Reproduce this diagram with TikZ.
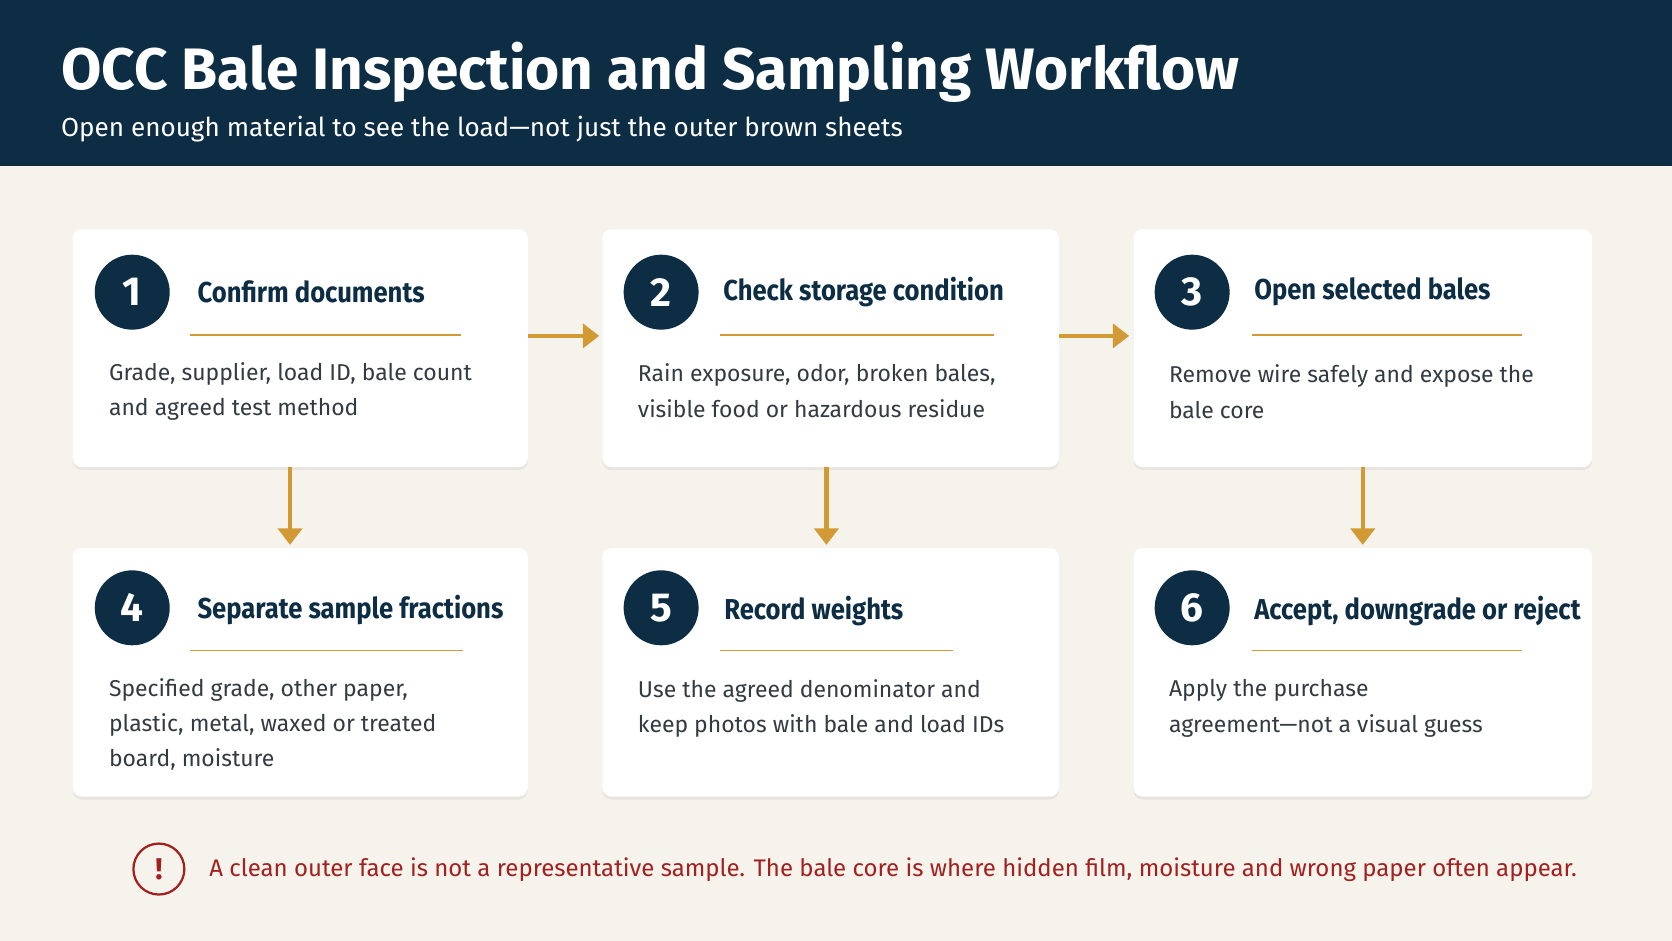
\documentclass[tikz,border=0pt]{standalone}
\usepackage{fontspec}
\setmainfont{Fira Sans}
\newfontfamily\condfont[FakeStretch=0.89]{Fira Sans}
\usetikzlibrary{positioning,arrows.meta,shadows}
\definecolor{navy}{HTML}{0D2D45}
\definecolor{cream}{HTML}{F6F3EC}
\definecolor{gold}{HTML}{D29A35}
\definecolor{bodygray}{HTML}{333B42}
\definecolor{warnred}{HTML}{A3201F}
\tikzset{
  card/.style={draw=none, fill=white, rounded corners=6pt,
    drop shadow={shadow xshift=0pt, shadow yshift=-2pt, opacity=0.12}},
  num/.style={circle, fill=navy, text=white, minimum size=50pt, inner sep=0pt,
    font=\fontsize{27}{27}\selectfont\bfseries},
  stitle/.style={anchor=west, text=navy, font=\condfont\fontsize{19.2}{22}\selectfont\bfseries, inner sep=0pt},
  sbody/.style={anchor=north west, text=bodygray, align=left, inner sep=0pt,
    font=\fontsize{15.3}{23.5}\selectfont},
  rule/.style={gold, line width=1.2pt},
  flow/.style={gold, line width=3pt, -{Triangle[length=11pt,width=16pt]}},
}
\begin{document}
\begin{tikzpicture}[x=0.025cm, y=-0.025cm]
  \useasboundingbox (0,0) rectangle (1568,882);
  \fill[cream] (0,0) rectangle (1568,882);
  \fill[navy] (0,0) rectangle (1568,156);
  \node[anchor=west, text=white, inner sep=0pt, font=\fontsize{39}{42}\selectfont\bfseries]
    (title) at (57,68) {OCC Bale Inspection and Sampling Workflow};
  \node[anchor=west, text=white, inner sep=0pt, font=\fontsize{17.4}{20}\selectfont]
    (subtitle) at (57,121) {Open enough material to see the load—not just the outer brown sheets};

  % cards
  \path[card] (68,215) rectangle (495,438);
  \path[card] (565,215) rectangle (993,438);
  \path[card] (1063,215) rectangle (1493,438);
  \path[card] (68,514) rectangle (495,747);
  \path[card] (565,514) rectangle (993,747);
  \path[card] (1063,514) rectangle (1493,747);
  \coordinate (c1r) at (495,315); \coordinate (c2l) at (562,315);
  \coordinate (c2r) at (993,315); \coordinate (c3l) at (1059,315);
  \coordinate (c1b) at (272,438); \coordinate (c4t) at (272,511);
  \coordinate (c2b) at (775,438); \coordinate (c5t) at (775,511);
  \coordinate (c3b) at (1278,438); \coordinate (c6t) at (1278,511);

  % step 1
  \node[num] (n1) at (124,274) {1};
  \node[stitle] (t1) at (185,274) {Confirm documents};
  \draw[rule] (178,314) -- (432,314);
  \node[sbody] (b1) at (102,340) {Grade, supplier, load ID, bale count\\and agreed test method};
  % step 2
  \node[num] (n2) at (620,274) {2};
  \node[stitle] (t2) at (678,274) {Check storage condition};
  \draw[rule] (675,314) -- (932,314);
  \node[sbody] (b2) at (598,341) {Rain exposure, odor, broken bales,\\visible food or hazardous residue};
  % step 3
  \node[num] (n3) at (1118,274) {3};
  \node[stitle] (t3) at (1176,274) {Open selected bales};
  \draw[rule] (1174,314) -- (1427,314);
  \node[sbody] (b3) at (1096,342) {Remove wire safely and expose the\\bale core};
  % step 4
  \node[num] (n4) at (124,570) {4};
  \node[stitle] (t4) at (185,572) {Separate sample fractions};
  \draw[rule] (178,610) -- (434,610);
  \node[sbody] (b4) at (102,636) {Specified grade, other paper,\\plastic, metal, waxed or treated\\board, moisture};
  % step 5
  \node[num] (n5) at (620,570) {5};
  \node[stitle] (t5) at (679,573) {Record weights};
  \draw[rule] (675,610) -- (894,610);
  \node[sbody] (b5) at (598,637) {Use the agreed denominator and\\keep photos with bale and load IDs};
  % step 6
  \node[num] (n6) at (1118,570) {6};
  \node[stitle] (t6) at (1176,573) {Accept, downgrade or reject};
  \draw[rule] (1174,610) -- (1427,610);
  \node[sbody] (b6) at (1096,637) {Apply the purchase\\agreement—not a visual guess};

  % arrows
  \draw[flow] (c1r) -- (c2l);
  \draw[flow] (c2r) -- (c3l);
  \draw[flow] (c1b) -- (c4t);
  \draw[flow] (c2b) -- (c5t);
  \draw[flow] (c3b) -- (c6t);

  % warning
  \node[circle, draw=warnred, line width=1.5pt, minimum size=34pt, inner sep=0pt,
    text=warnred, font=\fontsize{20}{20}\selectfont\bfseries] (warn) at (149,815) {!};
  \node[anchor=west, text=warnred, inner sep=0pt, font=\fontsize{16}{20}\selectfont]
    (note) at (196,816) {A clean outer face is not a representative sample. The bale core is where hidden film, moisture and wrong paper often appear.};
\end{tikzpicture}
\end{document}
